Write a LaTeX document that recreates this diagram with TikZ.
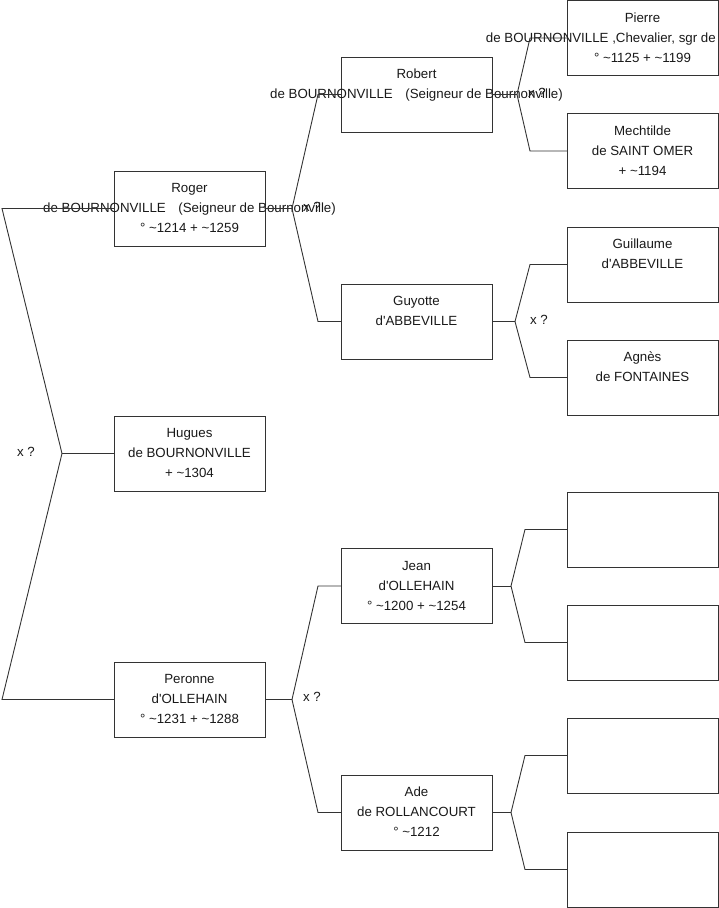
\documentclass[tikz,border=0pt]{standalone}
\usepackage{fontspec}
\setmainfont{Liberation Sans}
\newcommand\fs{\fontsize{13.3}{20}\selectfont}
\newcommand\tld{\textasciitilde}
\begin{document}
\begin{tikzpicture}[x=1pt,y=-1pt,
  box/.style={draw=black!80, line width=0.9pt, minimum width=151pt, minimum height=75pt, inner sep=0pt, outer sep=0pt},
  txt/.style={align=center, inner sep=0pt, font=\fs, text=black!90},
  lnk/.style={draw=black!80, line width=0.9pt},
  xq/.style={inner sep=0pt, font=\fs, text=black!90}]
\useasboundingbox (0,0) rectangle (719,908);
% column 1
\node[box] (roger) at (189.5,208.5) {};
\node[box] (hugues) at (189.5,453.5) {};
\node[box] (peronne) at (189.5,699.5) {};
% column 2
\node[box] (robert) at (416.5,94.5) {};
\node[box] (guyotte) at (416.5,321.5) {};
\node[box] (jean) at (416.5,586) {};
\node[box] (ade) at (416.5,812.5) {};
% column 3
\node[box] (pierre) at (642.5,38) {};
\node[box] (mechtilde) at (642.5,151) {};
\node[box] (guillaume) at (642.5,264.5) {};
\node[box] (agnes) at (642.5,377.5) {};
\node[box] (e1) at (642.5,529.5) {};
\node[box] (e2) at (642.5,642.5) {};
\node[box] (e3) at (642.5,755.5) {};
\node[box] (e4) at (642.5,869.5) {};
% texts
\node[txt] (rogert) at (roger.center) {\strut Roger\\de BOURNONVILLE\hspace{12.5pt}(Seigneur de Bournonville)\hspace*{5pt}\\° \tld 1214 + \tld 1259\strut};
\node[txt] (huguest) at (hugues.center) {\strut Hugues\\de BOURNONVILLE\\+ \tld 1304\strut};
\node[txt] (peronnet) at (peronne.center) {\strut Peronne\\d\textquotesingle OLLEHAIN\\° \tld 1231 + \tld 1288\strut};
\node[txt] (robertt) at (robert.center) {\strut Robert\\de BOURNONVILLE\hspace{12.5pt}(Seigneur de Bournonville)\hspace*{5pt}\\\strut};
\node[txt] (guyottet) at (guyotte.center) {\strut Guyotte\\d\textquotesingle ABBEVILLE\\\strut};
\node[txt] (jeant) at (jean.center) {\strut Jean\\d\textquotesingle OLLEHAIN\\° \tld 1200 + \tld 1254\strut};
\node[txt] (adet) at (ade.center) {\strut Ade\\de ROLLANCOURT\\° \tld 1212\strut};
\node[txt] (pierret) at (pierre.center) {\strut Pierre\\\\° \tld 1125 + \tld 1199\strut};
\node[txt, anchor=base east] (pierret2) at (716,42) {de BOURNONVILLE ,Chevalier, sgr de};
\node[txt] (mechtildet) at (mechtilde.center) {\strut Mechtilde\\de SAINT OMER\\+ \tld 1194\strut};
\node[txt] (guillaumet) at (guillaume.center) {\strut Guillaume\\d\textquotesingle ABBEVILLE\\\strut};
\node[txt] (agnest) at (agnes.center) {\strut Agnès\\de FONTAINES\\\strut};
% connectors level 1
\coordinate (j0) at (62,453.5);
\draw[lnk] (roger.west) -- ([xshift=-112pt]roger.west) -- (j0) -- ([xshift=-112pt]peronne.west) -- (peronne.west);
\draw[lnk] (j0) -- (hugues.west);
\node[xq] (x0) at (26,452) {x ?};
% level 2
\coordinate (j1) at ([xshift=27pt]roger.east);
\draw[lnk] (roger.east) -- (j1);
\draw[lnk] (robert.west) -- ([xshift=-23pt]robert.west) -- (j1) -- ([xshift=-23pt]guyotte.west) -- (guyotte.west);
\node[xq] (x1) at (312,207) {x ?};
\coordinate (j2) at ([xshift=27pt]peronne.east);
\draw[lnk] (peronne.east) -- (j2);
\draw[lnk] (jean.west) -- ([xshift=-23pt]jean.west) -- (j2) -- ([xshift=-23pt]ade.west) -- (ade.west);
\node[xq] (x2) at (312,697) {x ?};
% level 3
\coordinate (j3) at ([xshift=25pt]robert.east);
\draw[lnk] (robert.east) -- (j3);
\draw[lnk] (pierre.west) -- ([xshift=-37pt]pierre.west) -- (j3) -- ([xshift=-37pt]mechtilde.west) -- (mechtilde.west);
\node[xq] (x3) at (537,93) {x ?};
\coordinate (j4) at ([xshift=23pt]guyotte.east);
\draw[lnk] (guyotte.east) -- (j4);
\draw[lnk] (guillaume.west) -- ([xshift=-37pt]guillaume.west) -- (j4) -- ([xshift=-37pt]agnes.west) -- (agnes.west);
\node[xq] (x4) at (539,320) {x ?};
\coordinate (j5) at ([xshift=19pt]jean.east);
\draw[lnk] (jean.east) -- (j5);
\draw[lnk] (e1.west) -- ([xshift=-42pt]e1.west) -- (j5) -- ([xshift=-42pt]e2.west) -- (e2.west);
\coordinate (j6) at ([xshift=19pt]ade.east);
\draw[lnk] (ade.east) -- (j6);
\draw[lnk] (e3.west) -- ([xshift=-42pt]e3.west) -- (j6) -- ([xshift=-42pt]e4.west) -- (e4.west);
\end{tikzpicture}
\end{document}
